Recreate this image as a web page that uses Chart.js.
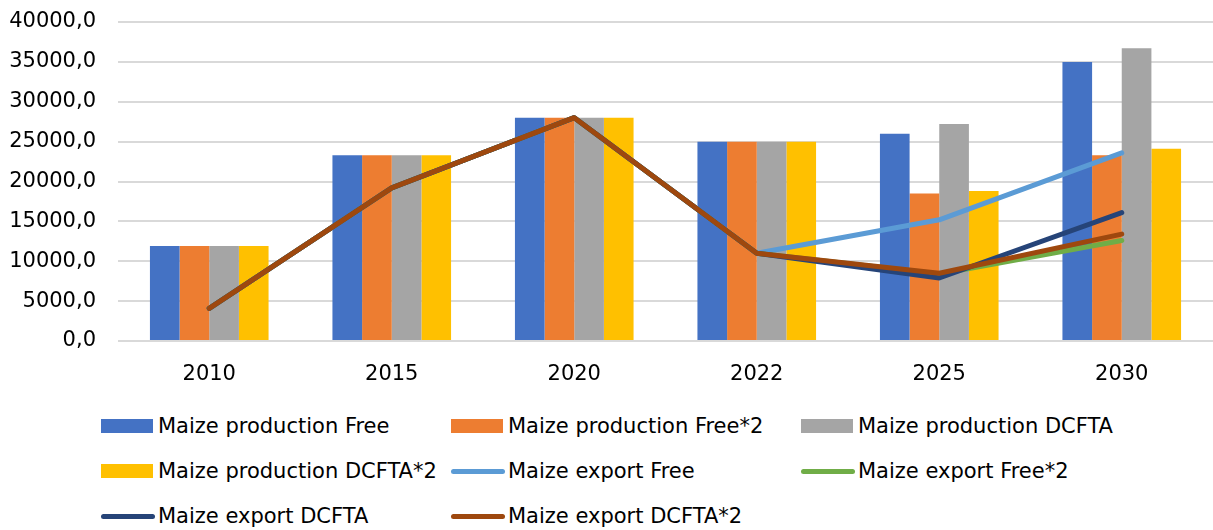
<!DOCTYPE html>
<html>
<head>
<meta charset="utf-8">
<script src="https://cdn.jsdelivr.net/npm/chart.js@4"></script>
<style>
  body { margin: 0; background: #fff; font-family: 'DejaVu Sans', sans-serif; }
  #wrap { position: relative; width: 1213px; height: 395px; }
  #legend {
    display: grid;
    grid-template-columns: 350px 350px 350px;
    row-gap: 19px;
    margin-left: 101px;
    margin-top: 18px;
    font-size: 21px;
    color: #000;
  }
  .item { display: flex; align-items: center; height: 26px; white-space: nowrap; }
  .mark { width: 52px; height: 14px; margin-right: 5px; flex: none; }
  .mark.line { height: 5px; border-radius: 3px; width: 54px; margin-right: 3px; }
</style>
</head>
<body>
<div id="wrap"><canvas id="maizeChart"></canvas></div>
<div id="legend"></div>
<script>
const years = ['2010', '2015', '2020', '2022', '2025', '2030'];

// production (bars)
const prodFree = [11900, 23300, 28000, 25000, 26000, 35000];
const prodFree2 = [11900, 23300, 28000, 25000, 18500, 23300];
const prodDcfta = [11900, 23300, 28000, 25000, 27200, 36700];
const prodDcfta2 = [11900, 23300, 28000, 25000, 18800, 24100];

// export (lines)
const expFree = [4100, 19200, 28000, 11000, 15200, 23600];
const expFree2 = [4100, 19200, 28000, 11000, 8400, 12600];
const expDcfta = [4100, 19200, 28000, 11000, 7900, 16100];
const expDcfta2 = [4100, 19200, 28000, 11000, 8500, 13400];

const yTicks = [0, 5000, 10000, 15000, 20000, 25000, 30000, 35000, 40000];

const font = { family: "'DejaVu Sans', sans-serif", size: 21 };

function bar(label, data, color, order) {
  return { type: 'bar', label: label, data: data, backgroundColor: color, order: order,
           categoryPercentage: 0.65, barPercentage: 1.0 };
}
function line(label, data, color, order) {
  return { type: 'line', label: label, data: data, borderColor: color, backgroundColor: color,
           borderWidth: 5, pointRadius: 0, tension: 0, borderCapStyle: 'round',
           borderJoinStyle: 'round', order: order };
}

const chart = new Chart(document.getElementById('maizeChart'), {
  data: {
    labels: years,
    datasets: [
      bar('Maize production Free', prodFree, '#4472C4', 5),
      bar('Maize production Free*2', prodFree2, '#ED7D31', 6),
      bar('Maize production DCFTA', prodDcfta, '#A5A5A5', 7),
      bar('Maize production DCFTA*2', prodDcfta2, '#FFC000', 8),
      line('Maize export Free', expFree, '#5B9BD5', 4),
      line('Maize export Free*2', expFree2, '#70AD47', 3),
      line('Maize export DCFTA', expDcfta, '#264478', 2),
      line('Maize export DCFTA*2', expDcfta2, '#9E480E', 1),
    ],
  },
  options: {
    responsive: true,
    maintainAspectRatio: false,
    animation: false,
    layout: { padding: { top: 22, right: 0, bottom: 8, left: 0 } },
    plugins: {
      legend: { display: false },
      tooltip: { enabled: false },
    },
    scales: {
      x: {
        offset: true,
        afterFit: (axis) => { axis.height = 46; },
        grid: { display: false, drawTicks: false },
        border: { display: false },
        ticks: { color: '#000', font: font, padding: 21 },
      },
      y: {
        min: 0,
        max: 40000,
        afterBuildTicks: (axis) => { axis.ticks = yTicks.map(v => ({ value: v })); },
        afterFit: (axis) => {
          axis.width = 118;
          axis.paddingTop = 0;
          axis.paddingBottom = 0;
        },
        grid: { color: '#d9d9d9', lineWidth: 2, drawTicks: false },
        border: { display: false },
        ticks: {
          color: '#000',
          font: font,
          padding: 22,
          callback: (v) => v.toFixed(1).replace('.', ','),
        },
      },
    },
  },
});

// legend in three fixed columns, built from the chart's datasets
const legendEl = document.getElementById('legend');
chart.data.datasets.forEach(ds => {
  const item = document.createElement('div');
  item.className = 'item';
  const mark = document.createElement('span');
  mark.className = ds.type === 'line' ? 'mark line' : 'mark';
  mark.style.background = ds.type === 'line' ? ds.borderColor : ds.backgroundColor;
  const txt = document.createElement('span');
  txt.textContent = ds.label;
  item.appendChild(mark);
  item.appendChild(txt);
  legendEl.appendChild(item);
});
</script>
</body>
</html>
